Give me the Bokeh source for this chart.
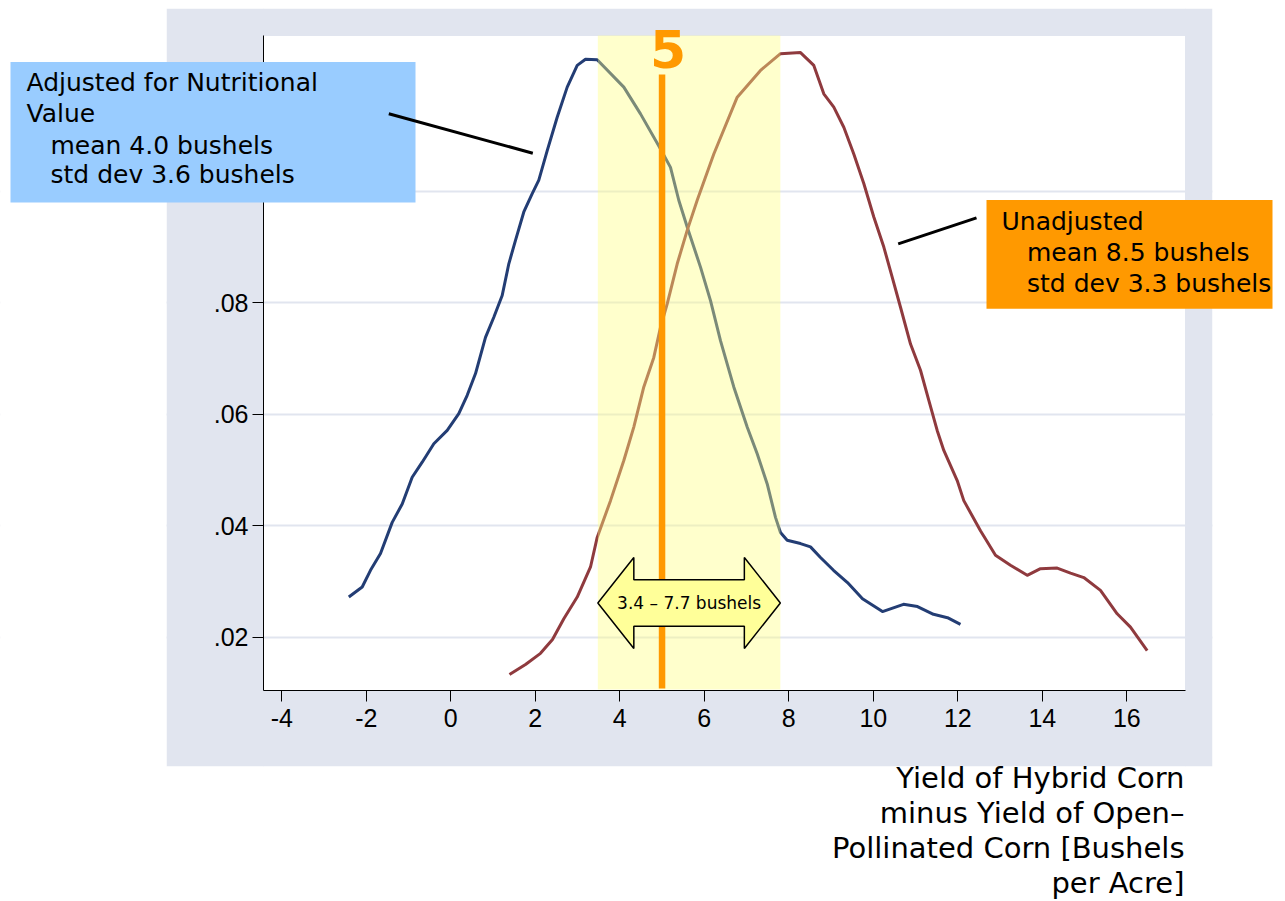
from bokeh.plotting import figure
from bokeh.models import BoxAnnotation, Label, Arrow, FixedTicker, Range1d
from bokeh.embed import file_html
from bokeh.resources import INLINE

# ---------------- data ----------------
adjusted_x = [-2.414, -2.097, -1.901, -1.664, -1.387, -1.150, -0.914, -0.677, -0.402, -0.085,
              0.189, 0.388, 0.585, 0.821, 1.018, 1.216, 1.373, 1.531, 1.728, 1.927,
              2.083, 2.282, 2.518, 2.755, 2.992, 3.188, 3.465, 4.095, 4.490, 4.964,
              5.200, 5.396, 5.595, 5.910, 6.147, 6.383, 6.698, 7.015, 7.252, 7.489,
              7.685, 7.803, 7.962, 8.277, 8.513, 8.750, 9.058, 9.389, 9.744, 10.217,
              10.714, 11.046, 11.424, 11.756, 12.063]
adjusted_y = [0.0272, 0.0290, 0.0320, 0.0350, 0.0406, 0.0439, 0.0487, 0.0514, 0.0547, 0.0571,
              0.0601, 0.0634, 0.0673, 0.0738, 0.0774, 0.0813, 0.0870, 0.0912, 0.0963, 0.0996,
              0.1020, 0.1073, 0.1133, 0.1187, 0.1226, 0.1237, 0.1236, 0.1187, 0.1139, 0.1076,
              0.1043, 0.0984, 0.0936, 0.0864, 0.0804, 0.0732, 0.0649, 0.0577, 0.0529, 0.0475,
              0.0415, 0.0388, 0.0374, 0.0368, 0.0362, 0.0343, 0.0320, 0.0298, 0.0269, 0.0246,
              0.0259, 0.0255, 0.0241, 0.0235, 0.0223]

unadjusted_x = [1.389, 1.768, 2.123, 2.407, 2.675, 2.992, 3.307, 3.465, 3.780, 4.095,
                4.331, 4.568, 4.805, 4.963, 5.122, 5.359, 5.595, 5.832, 6.225, 6.779,
                7.330, 7.803, 8.277, 8.592, 8.828, 9.065, 9.302, 9.538, 9.775, 10.012,
                10.249, 10.447, 10.644, 10.881, 11.117, 11.314, 11.512, 11.669, 11.986, 12.142,
                12.537, 12.892, 13.247, 13.643, 13.957, 14.353, 14.668, 14.982, 15.377, 15.772,
                16.087, 16.482]
unadjusted_y = [0.0133, 0.0151, 0.0171, 0.0196, 0.0233, 0.0272, 0.0326, 0.0379, 0.0445, 0.0517,
                0.0577, 0.0649, 0.0702, 0.0756, 0.0798, 0.0870, 0.0930, 0.0984, 0.1067, 0.1169,
                0.1217, 0.1247, 0.1249, 0.1226, 0.1175, 0.1151, 0.1115, 0.1067, 0.1014, 0.0954,
                0.0900, 0.0846, 0.0792, 0.0726, 0.0679, 0.0625, 0.0571, 0.0535, 0.0481, 0.0445,
                0.0391, 0.0347, 0.0329, 0.0311, 0.0323, 0.0324, 0.0315, 0.0307, 0.0284, 0.0242,
                0.0218, 0.0176]

x_ticks = [-4, -2, 0, 2, 4, 6, 8, 10, 12, 14, 16]
x_tick_labels = ["-4", "-2", "0", "2", "4", "6", "8", "10", "12", "14", "16"]
y_ticks = [0.02, 0.04, 0.06, 0.08, 0.10]
y_tick_labels = [".02", ".04", ".06", ".08", ".10"]

interval = [3.48, 7.80]
interval_text = "3.4 \u2013 7.7 bushels"
ref_value = 5
ref_text = "5"

adjusted_lines = ["Adjusted for Nutritional", "Value", "mean 4.0 bushels", "std dev 3.6 bushels"]
unadjusted_lines = ["Unadjusted", "mean 8.5 bushels", "std dev 3.3 bushels"]
x_title_lines = ["Yield of Hybrid Corn", "minus Yield of Open\u2013",
                 "Pollinated Corn [Bushels", "per Acre]"]

# ---------------- layout / calibration ----------------
GRAY = "#e1e5ef"
BLUE = "#233d74"
RED = "#8f3a3e"
ORANGE = "#ff9900"
FONT = "DejaVu Sans"
TICKFONT = "Liberation Sans"

W, H = 1285, 901
PL, PR, PT, PB = 263.0, 1185.0, 35.0, 690.0      # plot region (pixels)
GL, GR, GT, GB = 166.0, 1212.0, 8.0, 766.0       # graph region (pixels)
PX0, PXU = 450.3, 42.25                          # pixel x of 0, px per unit
PY08, PYU = 302.3, 5573.0                        # pixel y of .08, px per unit


def X(px):
    return (px - PX0) / PXU


def Y(py):
    return 0.08 + (PY08 - py) / PYU


p = figure(width=W, height=H, title=None,
           x_range=Range1d(X(0), X(W)), y_range=Range1d(Y(H), Y(0)),
           output_backend="svg", toolbar_location=None, min_border=0,
           border_fill_color="white", background_fill_color="white",
           outline_line_color=None)

# axes, fixed at the edges of the plot region
for ax in (p.xaxis, p.yaxis):
    ax.axis_line_color = "black"
    ax.axis_line_width = 1
    ax.major_tick_line_color = "black"
    ax.major_tick_line_width = 1
    ax.major_tick_out = 11
    ax.major_tick_in = 0
    ax.minor_tick_line_color = None
    ax.major_label_text_font = TICKFONT
    ax.major_label_text_font_size = "25px"
    ax.major_label_text_color = "black"
p.xaxis.ticker = FixedTicker(ticks=x_ticks)
p.yaxis.ticker = FixedTicker(ticks=y_ticks)
p.xaxis.major_label_overrides = {t: s for t, s in zip(x_ticks, x_tick_labels)}
p.yaxis.major_label_overrides = {t: s for t, s in zip(y_ticks, y_tick_labels)}
p.xaxis.fixed_location = Y(PB)
p.yaxis.fixed_location = X(PL)
p.xaxis.bounds = (X(PL), X(PR))
p.yaxis.bounds = (Y(PB), Y(PT))
p.xaxis.major_label_standoff = 7
p.yaxis.major_label_standoff = 4
p.yaxis.major_label_orientation = "horizontal"

p.xgrid.visible = False
p.ygrid.ticker = FixedTicker(ticks=y_ticks)
p.ygrid.grid_line_color = GRAY
p.ygrid.grid_line_width = 2

# graph region (gray ring around the plot region) and white page around it
rects = [
    (GL, PL + 0.5, GT, GB, GRAY), (PR - 0.5, GR, GT, GB, GRAY),
    (PL, PR, GT, PT + 0.5, GRAY), (PL, PR, PB - 0.5, GB, GRAY),
    (0, GL, 0, H, "white"), (GR, W, 0, H, "white"),
    (GL, GR, 0, GT, "white"), (GL, GR, GB, H, "white"),
]
for l, r, t, b, c in rects:
    p.add_layout(BoxAnnotation(left=X(l), right=X(r), top=Y(t), bottom=Y(b),
                               fill_color=c, fill_alpha=1.0, line_color=None,
                               level="underlay"))

# curves
p.line(adjusted_x, adjusted_y, line_color=BLUE, line_width=3, line_join="round")
p.line(unadjusted_x, unadjusted_y, line_color=RED, line_width=3, line_join="round")

# shaded interval
p.quad(left=[interval[0]], right=[interval[1]], bottom=[Y(PB - 1)], top=[Y(PT)],
       fill_color="#ffff80", fill_alpha=0.4, line_color=None)

# reference line at 5
p.segment(x0=[ref_value], y0=[Y(PB - 2)], x1=[ref_value], y1=[Y(74)],
          line_color=ORANGE, line_width=6.5)

# double arrow spanning the interval
cy = 602.5
head_dx = 36.0 / PXU
lo, hi = interval
ax_pts = [lo, lo + head_dx, lo + head_dx, hi - head_dx, hi - head_dx, hi,
          hi - head_dx, hi - head_dx, lo + head_dx, lo + head_dx]
ay_pts = [Y(cy), Y(cy - 45.5), Y(cy - 23.2), Y(cy - 23.2), Y(cy - 45.5), Y(cy),
          Y(cy + 45.5), Y(cy + 23.2), Y(cy + 23.2), Y(cy + 45.5)]
p.patch(ax_pts, ay_pts, fill_color="#ffff99", line_color="black", line_width=1.5)

p.add_layout(Label(x=(lo + hi) / 2, y=Y(cy), text=interval_text, text_align="center",
                   text_baseline="middle", text_font=FONT, text_font_size="17px",
                   text_color="black"))

# "5" marker
p.add_layout(Label(x=ref_value, y=Y(48), text=ref_text, text_align="center",
                   text_baseline="alphabetic", x_offset=6, text_font=FONT,
                   text_font_style="bold", text_font_size="52px", text_color=ORANGE))

# annotation boxes
p.add_layout(BoxAnnotation(left=X(10), right=X(415), top=Y(61.5), bottom=Y(202),
                           fill_color="#99ccff", fill_alpha=1.0, line_color=None))
p.add_layout(BoxAnnotation(left=X(986), right=X(1272), top=Y(199.5), bottom=Y(308.3),
                           fill_color=ORANGE, fill_alpha=1.0, line_color=None))

# leader lines
p.add_layout(Arrow(end=None, x_start=X(388.3), y_start=Y(113.3), x_end=X(532.3),
                   y_end=Y(152.7), line_color="black", line_width=3))
p.add_layout(Arrow(end=None, x_start=X(897.7), y_start=Y(243.3), x_end=X(976),
                   y_end=Y(217.3), line_color="black", line_width=3))

# box texts
for txt, px, py in zip(adjusted_lines, [26, 26, 50, 50], [82, 112.7, 145.3, 174.3]):
    p.add_layout(Label(x=X(px), y=Y(py), text=txt, text_align="left",
                       text_baseline="alphabetic", text_font=FONT,
                       text_font_size="25px", text_color="black"))
for txt, px, py in zip(unadjusted_lines, [1001, 1026.5, 1026.5], [221, 252, 282.7]):
    p.add_layout(Label(x=X(px), y=Y(py), text=txt, text_align="left",
                       text_baseline="alphabetic", text_font=FONT,
                       text_font_size="25px", text_color="black"))

# x axis title (right aligned, below the graph region)
for txt, py in zip(x_title_lines, [777, 812, 847, 882]):
    p.add_layout(Label(x=X(1184), y=Y(py), text=txt, text_align="right",
                       text_baseline="alphabetic", text_font=FONT,
                       text_font_size="29px", text_color="black"))

open("out.html", "w").write(file_html(p, INLINE))
